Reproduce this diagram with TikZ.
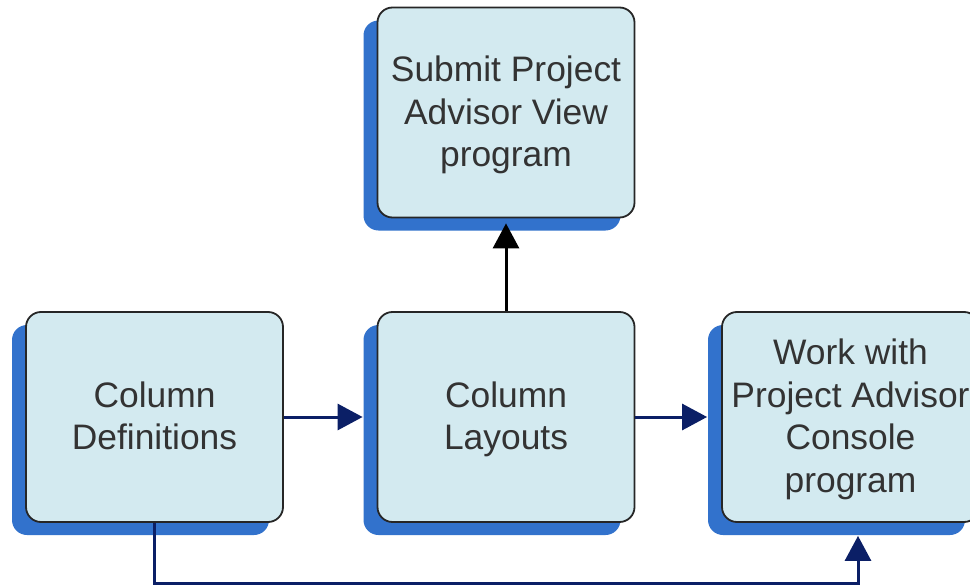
\documentclass[tikz,border=0pt]{standalone}
\usepackage{fontspec}
\setmainfont{Liberation Sans}
\usetikzlibrary{arrows.meta,shadows}
\definecolor{boxfill}{HTML}{D3EAF0}
\definecolor{shadowblue}{HTML}{3272CC}
\definecolor{navy}{HTML}{0B1F66}
\definecolor{txt}{HTML}{333333}
\newcommand\lnstrut{\rule[-9.75pt]{0pt}{42.5pt}}
\tikzset{
  procbox/.style={draw=black!85, line width=1.8pt, fill=boxfill, rounded corners=15pt,
    minimum width=257pt, minimum height=210pt, inner sep=0pt, align=center,
    text=txt, font=\fontsize{35.4pt}{42.5pt}\selectfont,
    general shadow={shadow xshift=-14pt, shadow yshift=-13pt, fill=shadowblue, draw=none}},
  flow/.style={line width=3pt, draw=navy, -{Triangle[length=25pt,width=26pt]}},
  upflow/.style={line width=3pt, draw=black, -{Triangle[length=25pt,width=26pt]}}
}
\begin{document}
\begin{tikzpicture}[x=1pt,y=-1pt]
\useasboundingbox (0,0) rectangle (970,586);
\clip (0,0) rectangle (970,586);
\fill[white] (0,0) rectangle (970,586);
\node[procbox] (b1) at (154.5,417) {Column\lnstrut\\Definitions\lnstrut};
\node[procbox] (b2) at (506,417) {Column\lnstrut\\Layouts\lnstrut};
\node[procbox] (b3) at (506,112.5) {Submit Project\lnstrut\\Advisor View\lnstrut\\program\lnstrut};
\node[procbox] (b4) at (850.5,417) {Work with\lnstrut\\Project Advisor\lnstrut\\Console\lnstrut\\program\lnstrut};
\draw[flow] (b1.east) -- ([xshift=-14pt]b2.west);
\draw[flow] (b2.east) -- ([xshift=-14pt]b4.west);
\draw[upflow] (b2.north) -- ([yshift=-5pt]b3.south);
\coordinate (c1) at ([xshift=7.5pt,yshift=-13pt]b4.south);
\draw[flow] (b1.south) -- ++(0,61) -| (c1);
\end{tikzpicture}
\end{document}
